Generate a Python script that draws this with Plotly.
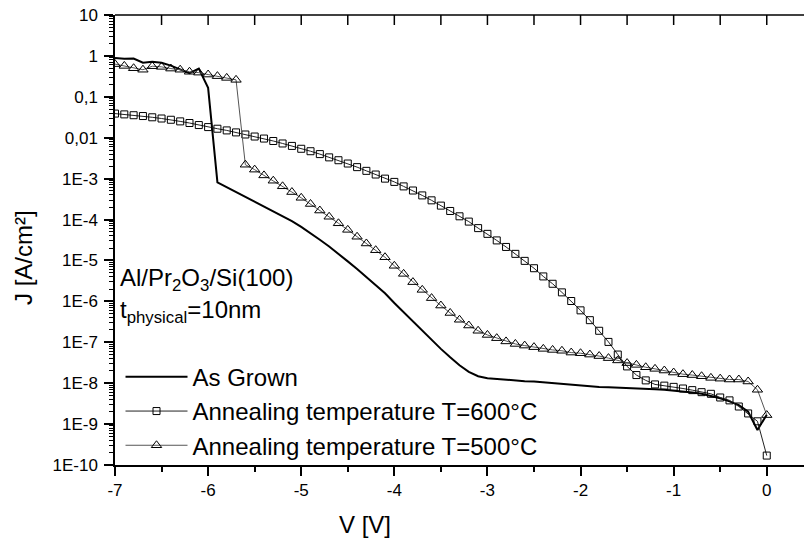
import math
import plotly.graph_objects as go

# Gate voltage sweep (V)
voltage = [-7.0, -6.9, -6.8, -6.7, -6.6, -6.5, -6.4, -6.3, -6.2, -6.1, -6.0,
           -5.9, -5.8, -5.7, -5.6, -5.5, -5.4, -5.3, -5.2, -5.1, -5.0,
           -4.9, -4.8, -4.7, -4.6, -4.5, -4.4, -4.3, -4.2, -4.1, -4.0,
           -3.9, -3.8, -3.7, -3.6, -3.5, -3.4, -3.3, -3.2, -3.1, -3.0,
           -2.9, -2.8, -2.7, -2.6, -2.5, -2.4, -2.3, -2.2, -2.1, -2.0,
           -1.9, -1.8, -1.7, -1.6, -1.5, -1.4, -1.3, -1.2, -1.1, -1.0,
           -0.9, -0.8, -0.7, -0.6, -0.5, -0.4, -0.3, -0.2, -0.1, 0.0]

# Leakage current density J (A/cm^2)
j_as_grown = [0.89, 0.85, 0.86, 0.68, 0.72, 0.68, 0.58, 0.47, 0.38, 0.49, 0.166,
              8.1e-4, 6.2e-4, 4.7e-4, 3.55e-4, 2.7e-4, 2.1e-4, 1.58e-4, 1.23e-4, 9.1e-5, 6.6e-5,
              4.7e-5, 3.2e-5, 2.19e-5, 1.48e-5, 9.5e-6, 6.2e-6, 4.0e-6, 2.57e-6, 1.58e-6, 9.1e-7,
              5.4e-7, 3.2e-7, 1.86e-7, 1.12e-7, 6.9e-8, 4.3e-8, 2.75e-8, 1.9e-8, 1.48e-8, 1.32e-8,
              1.26e-8, 1.20e-8, 1.17e-8, 1.12e-8, 1.10e-8, 1.05e-8, 1.00e-8, 9.5e-9, 9.1e-9, 8.7e-9,
              8.3e-9, 8.1e-9, 7.9e-9, 7.8e-9, 7.6e-9, 7.4e-9, 7.2e-9, 7.1e-9, 6.9e-9, 6.6e-9,
              6.3e-9, 5.9e-9, 5.5e-9, 4.9e-9, 4.3e-9, 3.6e-9, 2.9e-9, 2.0e-9, 7.2e-10, 1.7e-9]

j_600c = [3.89e-2, 3.72e-2, 3.55e-2, 3.39e-2, 3.16e-2, 2.95e-2, 2.75e-2, 2.51e-2, 2.29e-2, 2.04e-2, 1.82e-2,
          1.66e-2, 1.51e-2, 1.35e-2, 1.20e-2, 1.07e-2, 9.55e-3, 8.32e-3, 7.24e-3, 6.31e-3, 5.37e-3,
          4.68e-3, 3.98e-3, 3.31e-3, 2.82e-3, 2.34e-3, 1.91e-3, 1.55e-3, 1.26e-3, 1.0e-3, 8.32e-4,
          6.46e-4, 5.13e-4, 3.89e-4, 2.95e-4, 2.19e-4, 1.62e-4, 1.20e-4, 8.91e-5, 6.17e-5, 4.47e-5,
          3.09e-5, 2.14e-5, 1.45e-5, 9.77e-6, 6.46e-6, 4.07e-6, 2.69e-6, 1.66e-6, 1.02e-6, 6.03e-7,
          3.47e-7, 1.91e-7, 1.02e-7, 5.01e-8, 2.57e-8, 1.58e-8, 1.17e-8, 9.33e-9, 8.71e-9, 8.13e-9,
          7.41e-9, 6.76e-9, 6.03e-9, 5.50e-9, 4.47e-9, 3.80e-9, 2.69e-9, 1.82e-9, 1.17e-9, 1.70e-10]

j_500c = [0.63, 0.57, 0.50, 0.46, 0.56, 0.54, 0.49, 0.46, 0.41, 0.39, 0.35,
          0.32, 0.29, 0.26, 2.19e-3, 1.66e-3, 1.20e-3, 8.9e-4, 6.5e-4, 4.7e-4, 3.4e-4,
          2.4e-4, 1.66e-4, 1.17e-4, 8.1e-5, 5.6e-5, 3.8e-5, 2.6e-5, 1.78e-5, 1.20e-5, 7.4e-6,
          4.7e-6, 2.95e-6, 1.91e-6, 1.20e-6, 7.9e-7, 5.2e-7, 3.55e-7, 2.57e-7, 1.91e-7, 1.51e-7,
          1.26e-7, 1.05e-7, 9.1e-8, 8.3e-8, 7.6e-8, 6.9e-8, 6.5e-8, 6.2e-8, 5.6e-8, 5.4e-8,
          5.0e-8, 4.6e-8, 4.1e-8, 3.6e-8, 3.1e-8, 2.8e-8, 2.45e-8, 2.24e-8, 2.04e-8, 1.82e-8,
          1.66e-8, 1.58e-8, 1.48e-8, 1.35e-8, 1.29e-8, 1.23e-8, 1.23e-8, 1.10e-8, 6.9e-9, 1.66e-9]

series_names = ["As Grown",
                "Annealing temperature T=600°C",
                "Annealing temperature T=500°C"]

x_tick_vals = [-7, -6, -5, -4, -3, -2, -1, 0]
x_tick_text = ["-7", "-6", "-5", "-4", "-3", "-2", "-1", "0"]
x_half_ticks = [-6.5, -5.5, -4.5, -3.5, -2.5, -1.5, -0.5]
x_top_ticks = [-6.5, -6, -5.5, -5, -4.5, -4, -3.5, -3, -2.5, -2, -1.5, -1, -0.5, 0]

y_tick_vals = [1e-10, 1e-9, 1e-8, 1e-7, 1e-6, 1e-5, 1e-4, 1e-3, 1e-2, 1e-1, 1, 10]
y_tick_text = ["1E-10", "1E-9", "1E-8", "1E-7", "1E-6", "1E-5", "1E-4", "1E-3",
               "0,01", "0,1", "1", "10"]
y_right_ticks = [1e-9, 1e-8, 1e-7, 1e-6, 1e-5, 1e-4, 1e-3, 1e-2, 1e-1, 1]

FONT = "Liberation Sans, Arial, sans-serif"
PLOT_L, PLOT_T, PLOT_R, PLOT_B = 115, 15, 0, 75
plot_w = 804 - PLOT_L - PLOT_R
plot_h = 540 - PLOT_T - PLOT_B

fig = go.Figure()

fig.add_trace(go.Scatter(
    x=voltage, y=j_as_grown, name=series_names[0], mode="lines",
    line=dict(color="black", width=2),
))
fig.add_trace(go.Scatter(
    x=voltage, y=j_600c, name=series_names[1], mode="lines+markers",
    line=dict(color="#222222", width=1),
    marker=dict(symbol="square-open", size=7, color="black", line=dict(width=1)),
))
fig.add_trace(go.Scatter(
    x=voltage, y=j_500c, name=series_names[2], mode="lines+markers",
    line=dict(color="#555555", width=1),
    marker=dict(symbol="triangle-up-open", size=9, color="black", line=dict(width=1)),
))

minor_log = [m * 10.0 ** e for e in range(-10, 1) for m in range(2, 10)]

fig.update_layout(
    width=804, height=540,
    margin=dict(l=PLOT_L, r=PLOT_R, t=PLOT_T, b=PLOT_B, autoexpand=False),
    paper_bgcolor="white", plot_bgcolor="white",
    font=dict(family=FONT, color="black", size=17),
    xaxis=dict(
        range=[-7, 0.4], showgrid=False, zeroline=False,
        showline=True, linecolor="black", linewidth=1.5,
        tickmode="array", tickvals=x_tick_vals, ticktext=x_tick_text,
        ticks="outside", ticklen=9, tickwidth=1.5, tickcolor="black",
        tickfont=dict(size=17, family=FONT),
        minor=dict(tickmode="array", tickvals=x_half_ticks, ticks="outside",
                   ticklen=5, tickwidth=1.5, tickcolor="black"),
    ),
    yaxis=dict(
        type="log", range=[-10, 1], showgrid=False, zeroline=False,
        showline=True, linecolor="black", linewidth=1.5,
        tickmode="array", tickvals=y_tick_vals, ticktext=y_tick_text,
        ticks="outside", ticklen=9, tickwidth=1.5, tickcolor="black",
        tickfont=dict(size=17, family=FONT), ticklabelstandoff=3,
        minor=dict(tickmode="array", tickvals=minor_log, ticks="outside",
                   ticklen=4, tickwidth=1, tickcolor="black"),
    ),
    legend=dict(
        x=0.008, y=0.245, xanchor="left", yanchor="top",
        font=dict(size=24, family=FONT), bgcolor="rgba(0,0,0,0)",
        borderwidth=0, tracegroupgap=0, itemwidth=62,
    ),
)

# top frame edge with inward ticks every 0.5 V
frame = dict(color="black", width=1.5)
fig.add_shape(type="line", xref="paper", yref="paper", x0=0, x1=1, y0=1, y1=1, line=frame)
for v in x_top_ticks:
    fig.add_shape(type="line", xref="x", yref="paper", x0=v, x1=v,
                  y0=1, y1=1 - 10 / plot_h, line=frame)
# short inward ticks on the right edge at each decade
for t in y_right_ticks:
    fig.add_shape(type="line", xref="paper", yref="y", x0=1 - 4 / plot_w, x1=1,
                  y0=math.log10(t), y1=math.log10(t), line=frame)


def px_to_paper(px, py):
    return (px - PLOT_L) / plot_w, (PLOT_T + plot_h - py) / plot_h


labels = [
    ("V [V]", 365, 524, "center", 0),
    ("J [A/cm²]", 23, 258, "center", -90),
    ("Al/Pr<sub>2</sub>O<sub>3</sub>/Si(100)", 118, 279, "left", 0),
    ("t<sub>physical</sub>=10nm", 118, 312, "left", 0),
]
for text, px, py, anchor, angle in labels:
    ax, ay = px_to_paper(px, py)
    fig.add_annotation(text=text, x=ax, y=ay, xref="paper", yref="paper",
                       xanchor=anchor, yanchor="middle", textangle=angle,
                       showarrow=False, font=dict(size=24, family=FONT))

fig.write_html("out.html")
